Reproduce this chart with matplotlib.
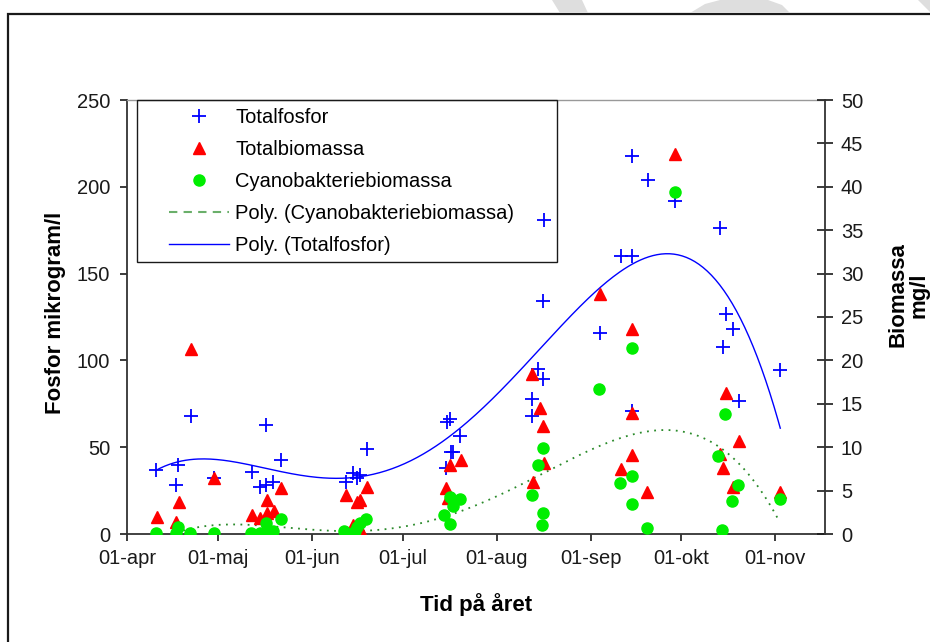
import numpy as np
import matplotlib
matplotlib.use("Agg")
import matplotlib.pyplot as plt
from matplotlib.lines import Line2D
from matplotlib.patches import Rectangle, Polygon

plt.rcParams['font.family'] = ['Liberation Sans', 'DejaVu Sans']

# x = days after 1 April
month_ticks = [0, 30, 61, 91, 122, 153, 183, 214]
month_labels = ['01-apr', '01-maj', '01-jun', '01-jul', '01-aug', '01-sep', '01-okt', '01-nov']

fosfor_day = [9.7, 16.3, 16.9, 21.2, 28.8, 41.2, 43.8, 46.0, 46.0, 48.2, 50.9,
              72.3, 74.6, 75.9, 76.8, 79.2, 105.3, 105.6, 106.7, 106.8, 107.6, 110.0,
              133.7, 133.7, 135.8, 137.3, 137.2, 137.7, 156.0, 163.0, 166.8, 166.8, 166.8,
              171.8, 181.0, 195.6, 196.7, 197.6, 200.0, 202.0, 215.6]
fosfor_val = [37, 28, 40, 68, 32, 36, 27, 63, 28, 30, 42.5,
              30, 35, 32, 34, 49, 38, 64.5, 66, 47, 47, 56.6,
              68, 78, 95, 89, 134, 181, 116, 160, 160, 218, 71,
              204, 192, 176, 107.5, 126.5, 118, 76.6, 94.5]

biomassa_day = [9.9, 17.0, 16.3, 21.2, 28.8, 41.2, 43.8, 46.2, 46.2, 48.4, 50.9,
                72.3, 75.9, 77.0, 79.2, 74.6, 77.0, 105.4, 106.7, 110.2, 106.1,
                133.7, 136.2, 137.3, 137.7, 134.0, 156.0, 163.0, 166.7, 166.7, 166.7,
                171.6, 181.0, 197.8, 195.6, 196.7, 200.0, 202.0, 215.6]
biomassa_val = [2.0, 3.7, 1.4, 21.3, 6.5, 2.2, 1.8, 3.9, 2.4, 2.7, 5.3,
                4.5, 3.7, 3.9, 5.4, 1.0, 0.6, 5.3, 7.9, 8.5, 4.1,
                18.4, 14.5, 12.5, 8.2, 6.0, 27.7, 7.5, 23.6, 13.9, 9.1,
                4.8, 43.8, 16.2, 9.2, 7.6, 5.4, 10.7, 4.8]

cyano_day = [9.7, 16.3, 16.8, 20.9, 28.6, 40.9, 43.8, 45.9, 48.1, 45.9, 50.7,
             71.7, 74.6, 75.9, 77.0, 78.9, 75.3, 104.7, 106.5, 106.5, 107.6, 109.8,
             133.7, 137.3, 135.8, 137.3, 137.0, 155.7, 162.8, 166.7, 166.7, 166.7,
             171.6, 180.9, 197.5, 195.2, 196.4, 199.7, 201.8, 215.4]
cyano_val = [0.1, 0.1, 0.85, 0.1, 0.1, 0.1, 0.1, 0.1, 0.3, 1.3, 1.7,
             0.35, 0.1, 0.85, 1.3, 1.7, 0.3, 2.2, 1.2, 4.3, 3.2, 4.0,
             4.5, 9.9, 8.0, 2.4, 1.0, 16.7, 5.9, 6.7, 3.5, 21.4,
             0.65, 39.4, 13.8, 9.0, 0.45, 3.8, 5.6, 4.0]

poly_order = 4

W, H = 930, 642
fig = plt.figure(figsize=(W / 100, H / 100), dpi=100)

# outer frame
fig.patches.append(Rectangle((8 / W, -0.02), 1.1, (H - 14) / H + 0.02, transform=fig.transFigure,
                             fill=False, edgecolor='#1a1a1a', lw=1.6, clip_on=False))
# light gray background artefacts above the frame
for pts in ([(552, 0), (582, 0), (588, 13), (560, 13)],
            [(690, 13), (705, 4), (720, 0), (768, 0), (782, 5), (790, 13)],
            [(918, 0), (930, 0), (930, 12)]):
    fig.patches.append(Polygon([(x / W, 1 - y / H) for x, y in pts], closed=True,
                               transform=fig.transFigure, facecolor='#dedede',
                               edgecolor='none', clip_on=False))

x0, x1, y0, y1 = 127, 825, 100, 534
ax = fig.add_axes([x0 / W, 1 - y1 / H, (x1 - x0) / W, (y1 - y0) / H])
ax2 = ax.twinx()

ax.set_xlim(0, (x1 - x0) / 3.03)
ax.set_ylim(0, 250)
ax2.set_ylim(0, 50)

fd = np.array(fosfor_day); fv = np.array(fosfor_val)
bd = np.array(biomassa_day); bv = np.array(biomassa_val)
cd = np.array(cyano_day); cv = np.array(cyano_val)

ax.plot(fd, fv, linestyle='none', marker='+', ms=10, mew=1.3, color='#0000ff', zorder=3)
pf = np.polyfit(fd, fv, poly_order)
xx = np.linspace(fd.min(), fd.max(), 300)
ax.plot(xx, np.polyval(pf, xx), color='#0000ff', lw=1.0, zorder=2)

ax2.plot(bd, bv, linestyle='none', marker='^', ms=9, color='#ff0000', mec='#ff0000', zorder=3)
ax2.plot(cd, cv, linestyle='none', marker='o', ms=8, color='#00ee00', mec='#00ee00', zorder=4)
pc = np.polyfit(cd, cv, poly_order)
xc = np.linspace(cd.min(), cd.max(), 300)
ax2.plot(xc, np.polyval(pc, xc), color='#2a8a2a', lw=1.3, linestyle=(0, (1, 3)), zorder=2)

ax.set_xticks(month_ticks)
ax.set_xticklabels(month_labels)
ax.set_yticks(np.arange(0, 251, 50))
ax2.set_yticks(np.arange(0, 51, 5))

fs = 14.5
ax.tick_params(axis='x', direction='out', length=5, width=1.2, pad=6, labelsize=fs, colors='#1a1a1a')
ax.tick_params(axis='y', direction='out', length=5, width=1.2, pad=7, labelsize=fs, colors='#1a1a1a')
ax2.tick_params(axis='y', direction='inout', length=11, width=1.2, pad=6, labelsize=fs, colors='#1a1a1a')

for s in ['left', 'bottom']:
    ax.spines[s].set_color('#333333'); ax.spines[s].set_linewidth(1.3)
ax.spines['top'].set_color('#999999'); ax.spines['top'].set_linewidth(1.0)
ax.spines['right'].set_visible(False)
for s in ['left', 'bottom', 'top']:
    ax2.spines[s].set_visible(False)
ax2.spines['right'].set_color('#333333'); ax2.spines['right'].set_linewidth(1.3)

ax.set_ylabel('Fosfor mikrogram/l', fontsize=16, fontweight='bold')
ax.yaxis.set_label_coords((66 - x0) / (x1 - x0), 0.51)
ax.set_xlabel('Tid på året', fontsize=16, fontweight='bold')
ax.xaxis.set_label_coords(0.5, (y1 - 593) / (y1 - y0))
fig.text(908 / W, 1 - 295 / H, 'Biomassa\nmg/l', rotation=90, ha='center', va='center',
         fontsize=16, fontweight='bold', multialignment='center', linespacing=1.0)

# legend frame
lx0, lx1, ly0, ly1 = 137, 557, 100, 262
ax2.add_patch(Rectangle(((lx0 - x0) / (x1 - x0), (y1 - ly1) / (y1 - y0)),
                        (lx1 - lx0) / (x1 - x0), (ly1 - ly0) / (y1 - y0),
                        transform=ax2.transAxes, fill=False, edgecolor='#1a1a1a', lw=1.0,
                        zorder=5, clip_on=False))
handles = [
    Line2D([], [], linestyle='none', marker='+', ms=10, mew=1.3, color='#0000ff'),
    Line2D([], [], linestyle='none', marker='^', ms=9, color='#ff0000'),
    Line2D([], [], linestyle='none', marker='o', ms=8, color='#00ee00'),
    Line2D([], [], color='#6aaf6a', lw=1.5, linestyle=(0, (4, 3))),
    Line2D([], [], color='#0000ff', lw=1.0),
]
labels = ['Totalfosfor', 'Totalbiomassa', 'Cyanobakteriebiomassa',
          'Poly. (Cyanobakteriebiomassa)', 'Poly. (Totalfosfor)']
leg = ax2.legend(handles, labels, loc='upper left',
                 bbox_to_anchor=((169 - x0) / (x1 - x0), (y1 - 108) / (y1 - y0)),
                 frameon=False, fontsize=fs, borderpad=0, borderaxespad=0,
                 handlelength=3.0, handletextpad=0.3, labelspacing=0.64)
leg.set_zorder(6)

fig.savefig('out.png', dpi=100)
